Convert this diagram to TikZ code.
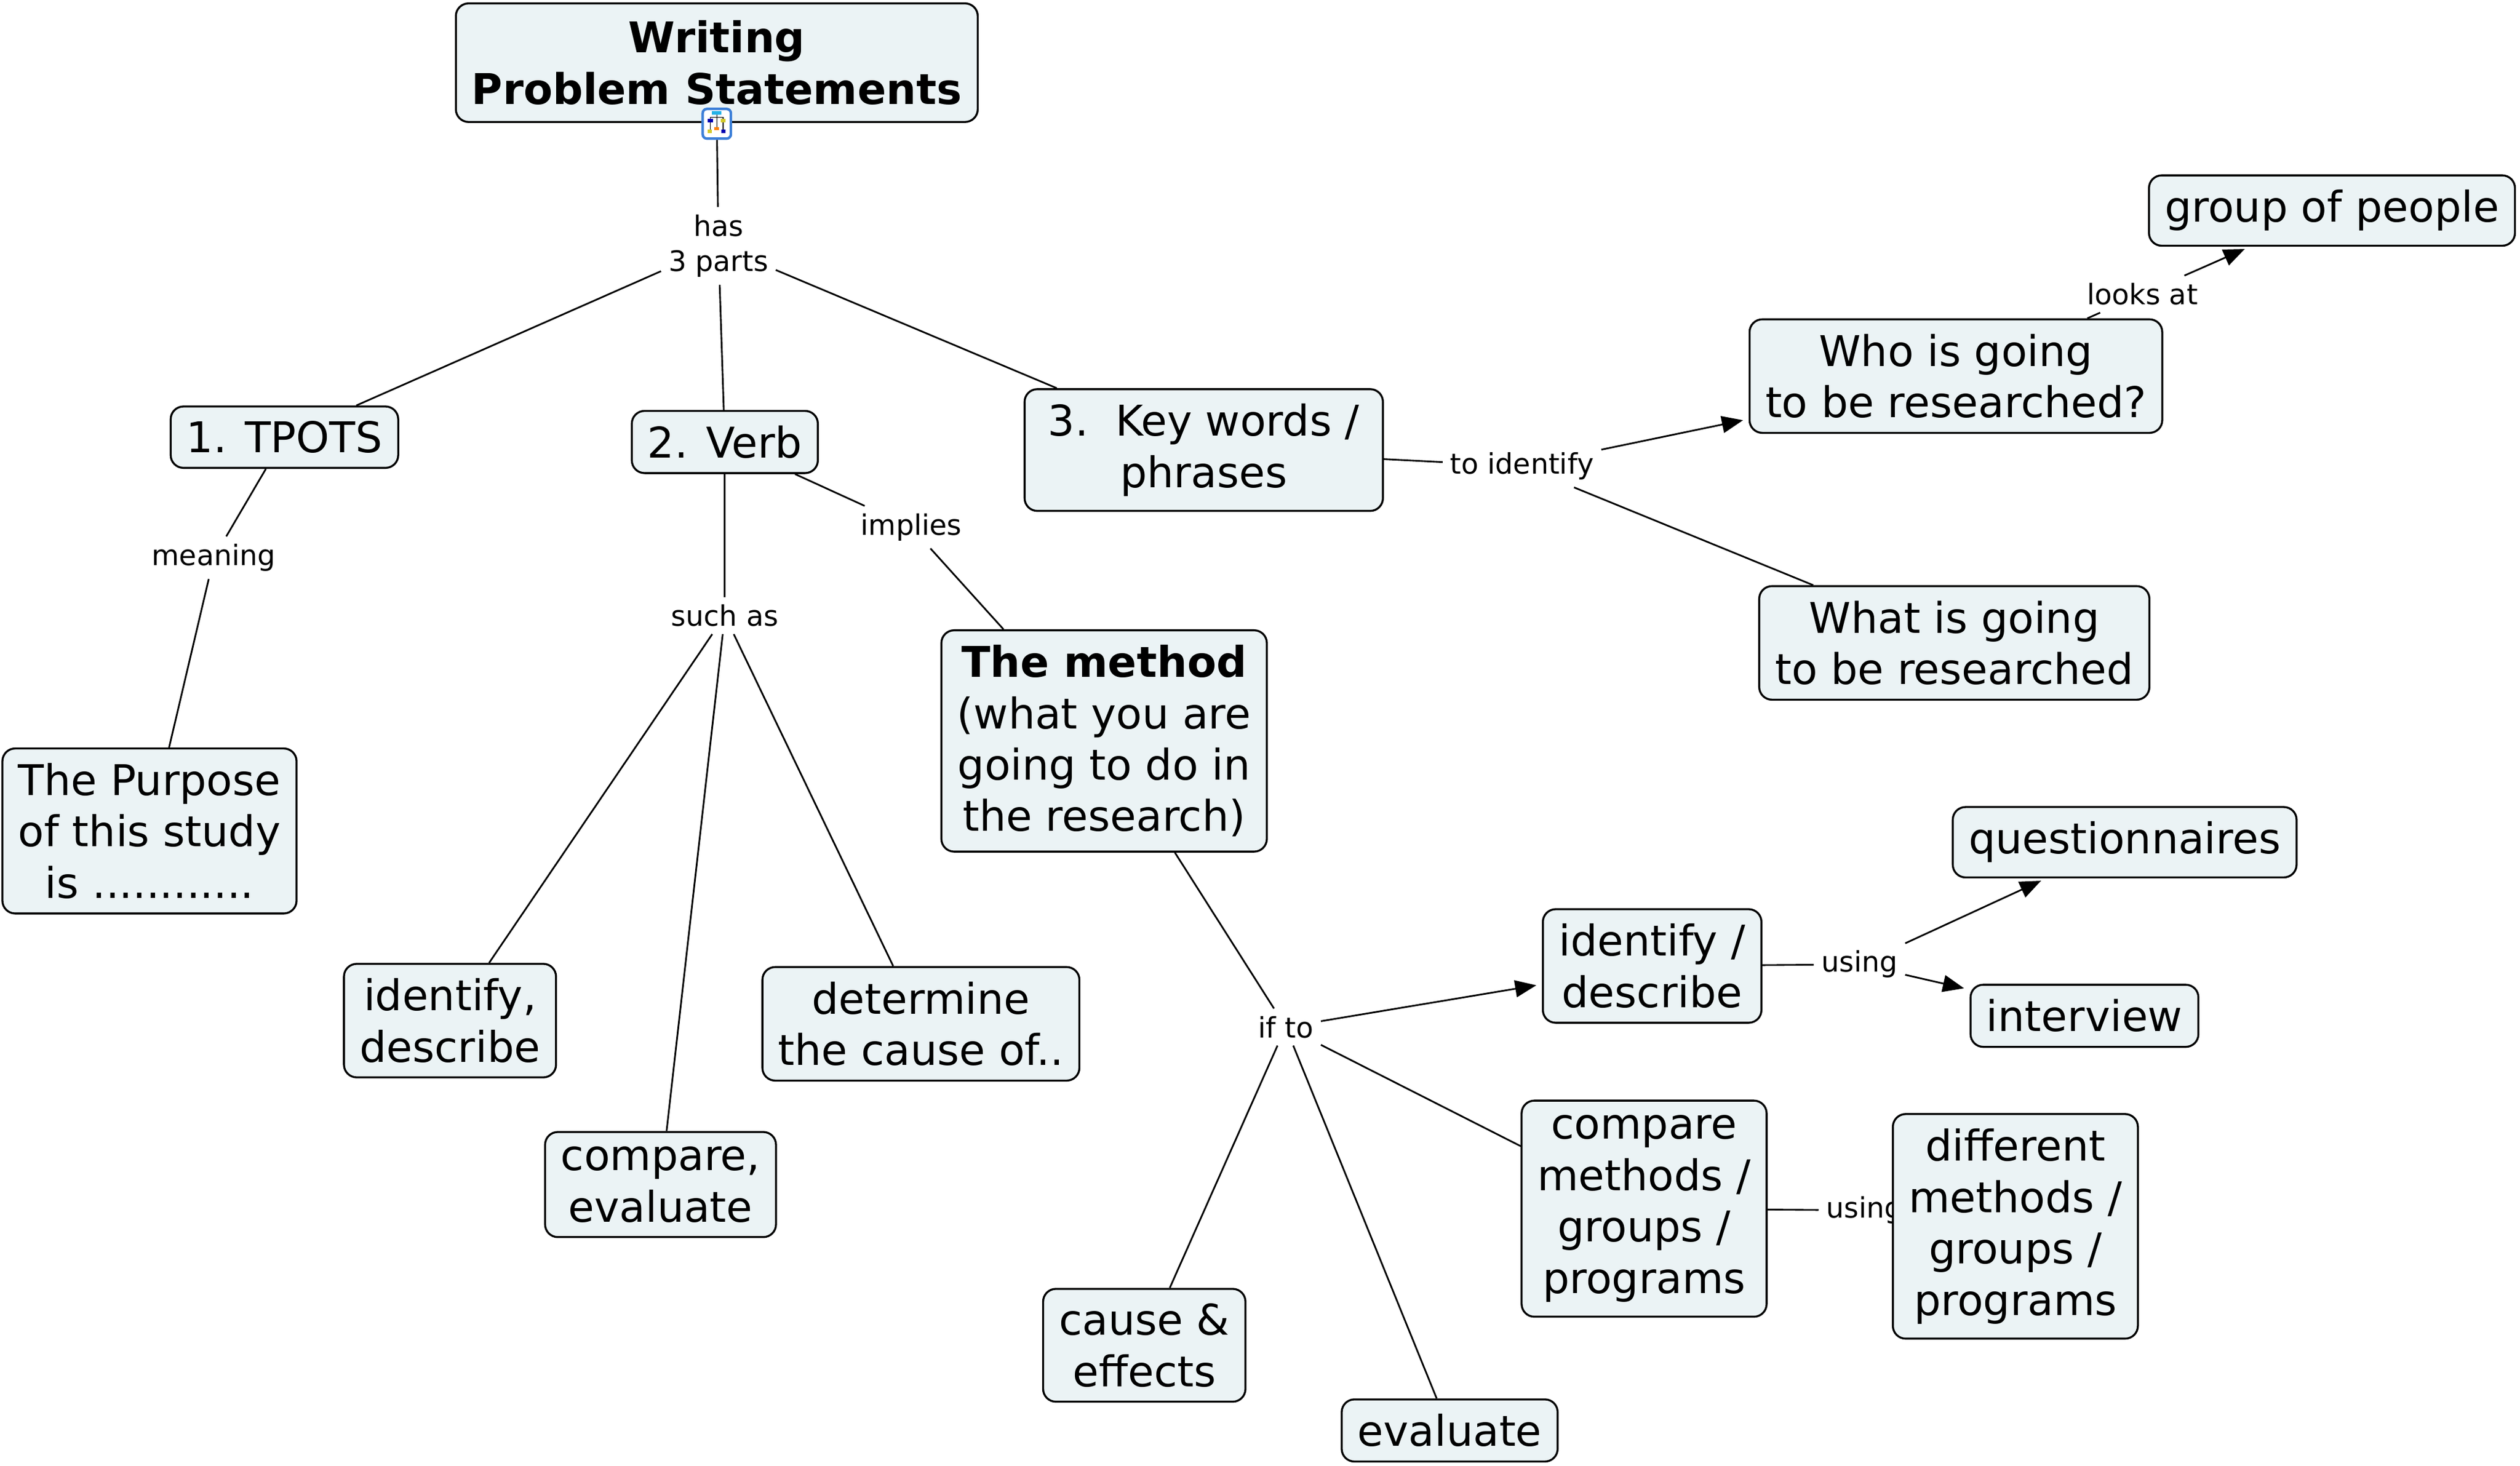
\documentclass[tikz,border=0pt]{standalone}
\usepackage{fontspec}
\setmainfont{DejaVu Sans}
\usetikzlibrary{arrows.meta}
\definecolor{cmapfill}{HTML}{EBF3F5}
\definecolor{iconblue}{HTML}{3C7FD8}

\begin{document}
\begin{tikzpicture}[x=0.02cm,y=-0.02cm,
  concept/.style={draw,fill=cmapfill,rounded corners=4.5pt,line width=0.7pt,
    align=center,inner xsep=5.6pt,inner ysep=5.2pt,font=\fontsize{15}{18.2}\selectfont},
  linking/.style={align=center,inner sep=2.5pt,font=\fontsize{10}{12.5}\selectfont},
  link/.style={line width=0.6pt},
  linkarrow/.style={line width=0.6pt,-{Triangle[length=7.5pt,width=6pt]},shorten >=2pt}]
  \useasboundingbox (0,0) rectangle (1568,912);
  % \draw[help lines] (0,0) grid (1568,912);
  \node[concept,minimum height=42pt] (title) at (446,39) {\textbf{Writing}\\\textbf{Problem Statements}};
  \node[draw=iconblue,fill=white,line width=0.9pt,rounded corners=1.5pt,
        minimum width=10pt,minimum height=10.5pt,inner sep=0pt] (icon) at (446,77) {};
  \fill[iconblue!60!cyan] (443,69) rectangle (449,71.5);
  \draw[line width=0.3pt] (446,71.5) -- (446,79) (442,73) -- (450,73) (442,73) -- (442,82) (450,73) -- (450,82);
  \fill[blue!70!black] (440.5,74) rectangle (443.5,76);
  \fill[yellow!80!black] (448.5,74) rectangle (451.5,76);
  \fill[orange] (444.5,79) rectangle (447.5,81);
  \fill[yellow!80!black] (440.5,80.5) rectangle (443,83);
  \fill[blue!70!black] (449,80.5) rectangle (451.5,83);

  \node[concept] (tpots)     at (177,272) {1. TPOTS};
  \node[concept] (verb)      at (451,275) {2. Verb};
  \node[concept,minimum width=4.46cm] (keywords) at (749,280) {3.\ \ Key words /\\phrases};
  \node[concept] (who)       at (1217,234) {Who is going\\to be researched?};
  \node[concept] (people)    at (1451,131) {group of people};
  \node[concept] (whatres)   at (1216,400) {What is going\\to be researched};
  \node[concept] (purpose)   at (93,517)  {The Purpose\\of this study\\is ............};
  \node[concept] (method)    at (687,461) {\textbf{The method}\\(what you are\\going to do in\\the research)};
  \node[concept] (identify)  at (280,635) {identify,\\describe};
  \node[concept] (compare)   at (411,737) {compare,\\evaluate};
  \node[concept] (determine) at (573,637) {determine\\the cause of..};
  \node[concept] (idesc)     at (1028,601) {identify /\\describe};
  \node[concept] (quest)     at (1322,524) {questionnaires};
  \node[concept] (interview) at (1297,632) {interview};
  \node[concept] (compmeth)  at (1023,752) {compare\\methods /\\groups /\\programs};
  \node[linking] (using2)    at (1160,753) {using};
  \node[concept] (different) at (1254,763) {different\\methods /\\groups /\\programs};
  \node[concept] (cause)     at (712,837) {cause \&\\effects};
  \node[concept] (evaluate)  at (902,890) {evaluate};

  % linking phrases
  \node[linking] (has)       at (447,153) {has\\3 parts};
  \node[linking] (meaning)   at (133,347) {meaning};
  \node[linking] (suchas)    at (451,383) {such as};
  \node[linking] (implies)   at (567,328) {implies};
  \node[linking] (toident)   at (947,290) {to identify};
  \node[linking] (looksat)   at (1333,183) {looks at};
  \node[linking] (ifto)      at (800,639) {if to};
  \node[linking] (using1)    at (1157,600) {using};

  \path[link] (icon) edge (has)
              (has) edge (tpots) edge (verb) edge (keywords)
              (tpots) edge (meaning)  (meaning) edge (purpose)
              (verb) edge (suchas)
              (suchas) edge (identify) edge (compare) edge (determine)
              (verb) edge (implies)  (implies) edge (method)
              (keywords) edge (toident)  (toident) edge (whatres)
              (who) edge (looksat)
              (method) edge (ifto)
              (ifto) edge (compmeth) edge (cause) edge (evaluate)
              (idesc) edge (using1)
              (compmeth) edge (using2);
  \path[linkarrow] (toident) edge (who)
                   (looksat) edge (people)
                   (ifto) edge (idesc)
                   (using1) edge (quest) edge (interview);
\end{tikzpicture}
\end{document}
